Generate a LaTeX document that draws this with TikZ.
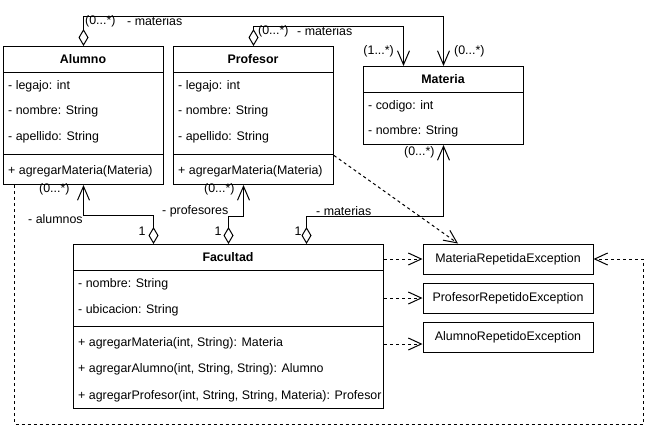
\documentclass[tikz,border=0pt]{standalone}
\usepackage{fontspec}
\setmainfont{Liberation Sans}
\usetikzlibrary{arrows.meta}

\tikzset{
  classbox/.style={draw, line width=1pt, anchor=north west, inner sep=0pt, minimum width=160pt},
  exbox/.style={draw, line width=1pt, minimum width=170pt, minimum height=30pt, inner sep=0pt},
  member/.style={anchor=west, inner sep=0pt},
  lbl/.style={anchor=west, inner sep=0pt},
  assoc/.style={line width=1pt, {Diamond[open,length=17pt,width=10pt]}-{Straight Barb[length=14pt,width=12pt]}},
  dep/.style={line width=1pt, dash pattern=on 3pt off 3pt, -{Straight Barb[length=13pt,width=12pt]}}
}

\begin{document}
\begin{tikzpicture}[x=1pt, y=-1pt, font=\fontsize{12.4}{14}\selectfont]
\useasboundingbox (0,0) rectangle (658,442);

% Alumno
\node[classbox, minimum height=138pt] (alumno) at (3,46) {};
\draw[line width=1pt] (3,72) -- (163,72) (3,154) -- (163,154);
\node[font=\fontsize{12.4}{14}\selectfont\bfseries] (alumnoT) at (83,59) {Alumno};
\node[member] (al1) at (8,86) {- legajo: int};
\node[member] (al2) at (8,111) {- nombre: String};
\node[member] (al3) at (8,137) {- apellido: String};
\node[member] (al4) at (8,171) {+ agregarMateria(Materia)};

% Profesor
\node[classbox, minimum height=138pt] (profesor) at (173,46) {};
\draw[line width=1pt] (173,72) -- (333,72) (173,154) -- (333,154);
\node[font=\fontsize{12.4}{14}\selectfont\bfseries] (profesorT) at (253,59) {Profesor};
\node[member] (pr1) at (178,86) {- legajo: int};
\node[member] (pr2) at (178,111) {- nombre: String};
\node[member] (pr3) at (178,137) {- apellido: String};
\node[member] (pr4) at (178,171) {+ agregarMateria(Materia)};

% Materia
\node[classbox, minimum height=78pt] (materia) at (363,66) {};
\draw[line width=1pt] (363,92) -- (523,92);
\node[font=\fontsize{12.4}{14}\selectfont\bfseries] (materiaT) at (443,79) {Materia};
\node[member] (ma1) at (368,106) {- codigo: int};
\node[member] (ma2) at (368,131) {- nombre: String};

% Facultad
\node[classbox, minimum width=310pt, minimum height=164pt] (facultad) at (73,244) {};
\draw[line width=1pt] (73,270) -- (383,270) (73,326) -- (383,326);
\node[font=\fontsize{12.4}{14}\selectfont\bfseries] (facultadT) at (228,257) {Facultad};
\node[member] (fa1) at (78,284) {- nombre: String};
\node[member] (fa2) at (78,310) {- ubicacion: String};
\node[member] (fa3) at (78,343) {+ agregarMateria(int, String): Materia};
\node[member] (fa4) at (78,369) {+ agregarAlumno(int, String, String): Alumno};
\node[member] (fa5) at (78,396) {+ agregarProfesor(int, String, String, Materia): Profesor};

% excepciones
\node[exbox] (matrep) at (508,259) {MateriaRepetidaException};
\node[exbox] (profrep) at (508,298) {ProfesorRepetidoException};
\node[exbox] (alumrep) at (508,337) {AlumnoRepetidoException};
\coordinate (alumrepIn) at ([yshift=-7pt]alumrep.west);

% asociaciones
\draw[assoc] (alumno.north) -- ++(0,-30) -| (materia.north);
\draw[assoc] (profesor.north) -- ++(0,-20) -| ([xshift=-40pt]materia.north);
\draw[assoc] ([xshift=-75pt]facultad.north) -- ++(0,-29) -| (alumno.south);
\draw[assoc] (facultad.north) -- ++(0,-28) -| ([xshift=-10pt]profesor.south);
\draw[assoc] ([xshift=78pt]facultad.north) -- ++(0,-28) -| (materia.south);

\node[lbl] (m1s) at (85,21) {(0...*)};
\node[lbl] (m1n) at (127,21) {- materias};
\node[lbl] (m1t) at (454,51) {(0...*)};
\node[lbl] (m2s) at (258,31) {(0...*)};
\node[lbl] (m2n) at (297,31) {- materias};
\node[anchor=east, inner sep=0pt] (m2t) at (394,51) {(1...*)};
\node[lbl] (a1s) at (39,189) {(0...*)};
\node[lbl] (a1n) at (28,219) {- alumnos};
\node[inner sep=0pt] (a1t) at (142,231) {1};
\node[lbl] (p1s) at (204,189) {(0...*)};
\node[lbl] (p1n) at (162,211) {- profesores};
\node[inner sep=0pt] (p1t) at (218,231) {1};
\node[lbl] (m3n) at (316,211) {- materias};
\node[lbl] (m3s) at (404,152) {(0...*)};
\node[inner sep=0pt] (m3t) at (298,231) {1};

% dependencias
\draw[dep] ([yshift=-40pt]profesor.east) -- ([xshift=-50pt]matrep.north);
\draw[dep] (facultad.east |- matrep.west) -- (matrep.west);
\draw[dep] (facultad.east |- profrep.west) -- (profrep.west);
\draw[dep] (facultad.east |- alumrepIn) -- (alumrepIn);
\coordinate (vuelta) at (643,424);
\draw[dep] ([xshift=-69pt]alumno.south) |- (vuelta) |- (matrep.east);
\end{tikzpicture}
\end{document}
